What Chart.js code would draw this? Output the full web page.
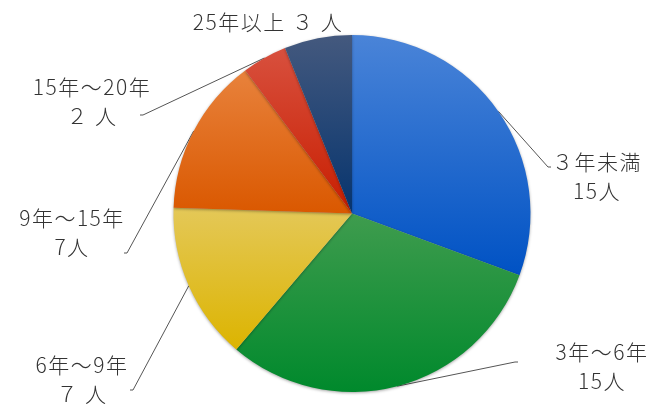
<!DOCTYPE html>
<html>
<head>
<meta charset="utf-8">
<script src="https://cdn.jsdelivr.net/npm/chart.js@4/dist/chart.umd.min.js"></script>
<style>
  html, body { margin: 0; padding: 0; background: #fff; }
  #wrap { width: 656px; height: 405px; }
</style>
</head>
<body>
<div id="wrap"><canvas id="grafico_pizza"></canvas></div>
<script>
var categorias = ['3年未満', '3年〜6年', '6年〜9年', '9年〜15年', '15年〜20年', '25年以上'];
var pessoas = [15, 15, 7, 7, 2, 3];
var rotulos = [
  ['３年未満', '15人'],
  ['3年〜6年', '15人'],
  ['6年〜9年', '７ 人'],
  ['9年〜15年', '7人'],
  ['15年〜20年', '２ 人'],
  ['25年以上 ３ 人']
];

// cor clara em cima, escura em baixo
var coresTopo = ['#4a84d8', '#3f9c4e', '#e4c858', '#e8823c', '#d8503e', '#44597e'];
var coresBase = ['#0052c4', '#00892c', '#dcb400', '#da5800', '#c81e00', '#06346e'];

// onde fica cada rotulo e onde termina a linha
var posRotulo = [
  { x: 596, y: 162, fim: [548, 167] },
  { x: 601, y: 352, fim: [515, 362] },
  { x: 81,  y: 365, fim: [133, 390] },
  { x: 71,  y: 218, fim: [127, 253] },
  { x: 91,  y: 87,  fim: [143, 115] },
  { x: 267, y: 22,  fim: null }
];

function gradiente(ctx) {
  var chart = ctx.chart, area = chart.chartArea;
  if (!area) return coresBase[ctx.dataIndex];
  var cx = (area.left + area.right) / 2, cy = (area.top + area.bottom) / 2;
  var r = Math.min(area.right - area.left, area.bottom - area.top) / 2;
  var total = pessoas.reduce(function(a, b) { return a + b; }, 0);
  var acc = 0;
  for (var k = 0; k < ctx.dataIndex; k++) acc += pessoas[k];
  var a0 = -Math.PI / 2 + acc / total * Math.PI * 2;
  var a1 = a0 + pessoas[ctx.dataIndex] / total * Math.PI * 2;
  var minY = cy, maxY = cy;
  for (var s = 0; s <= 40; s++) {
    var y = cy + r * Math.sin(a0 + (a1 - a0) * s / 40);
    minY = Math.min(minY, y); maxY = Math.max(maxY, y);
  }
  var g = chart.ctx.createLinearGradient(0, minY, 0, maxY);
  g.addColorStop(0, coresTopo[ctx.dataIndex]);
  g.addColorStop(1, coresBase[ctx.dataIndex]);
  return g;
}

var sombra = {
  id: 'sombra',
  beforeDatasetsDraw: function(chart) {
    var c = chart.ctx;
    c.save();
    c.shadowColor = 'rgba(0,0,0,0.35)';
    c.shadowBlur = 3;
    c.shadowOffsetX = 0;
    c.shadowOffsetY = 1;
  },
  afterDatasetsDraw: function(chart) {
    chart.ctx.restore();
  }
};

var rotulosPlugin = {
  id: 'rotulos',
  beforeDatasetsDraw: function(chart) {
    var c = chart.ctx;
    var arcos = chart.getDatasetMeta(0).data;
    c.save();
    c.strokeStyle = '#555';
    c.lineWidth = 1;
    arcos.forEach(function(arco, i) {
      var p = posRotulo[i];
      if (!p.fim) return;
      var props = arco.getProps(['x', 'y', 'startAngle', 'endAngle', 'outerRadius'], true);
      var meio = (props.startAngle + props.endAngle) / 2;
      var x0 = props.x + Math.cos(meio) * props.outerRadius;
      var y0 = props.y + Math.sin(meio) * props.outerRadius;
      c.beginPath();
      c.moveTo(x0, y0);
      c.lineTo(p.fim[0], p.fim[1]);
      c.lineTo(p.fim[0] + (p.fim[0] > props.x ? 3 : -3), p.fim[1]);
      c.stroke();
    });
    c.restore();
  },
  afterDraw: function(chart) {
    var c = chart.ctx;
    c.save();
    c.fillStyle = '#333';
    c.font = '300 21px "Noto Sans CJK JP", "Noto Sans", sans-serif';
    c.letterSpacing = '1.5px';
    c.textAlign = 'center';
    c.textBaseline = 'middle';
    rotulos.forEach(function(linhas, i) {
      var p = posRotulo[i];
      linhas.forEach(function(txt, j) {
        c.fillText(txt, p.x + 1, p.y + j * 29);
      });
    });
    c.restore();
  }
};

new Chart(document.getElementById('grafico_pizza'), {
  type: 'pie',
  data: {
    labels: categorias,
    datasets: [{
      label: '人数',
      data: pessoas,
      backgroundColor: gradiente,
      borderWidth: 0
    }]
  },
  options: {
    responsive: true,
    maintainAspectRatio: false,
    animation: false,
    layout: { padding: { left: 173, right: 125, top: 35, bottom: 13 } },
    plugins: {
      legend: { display: false },
      tooltip: { enabled: false }
    }
  },
  plugins: [rotulosPlugin, sombra]
});
</script>
</body>
</html>
